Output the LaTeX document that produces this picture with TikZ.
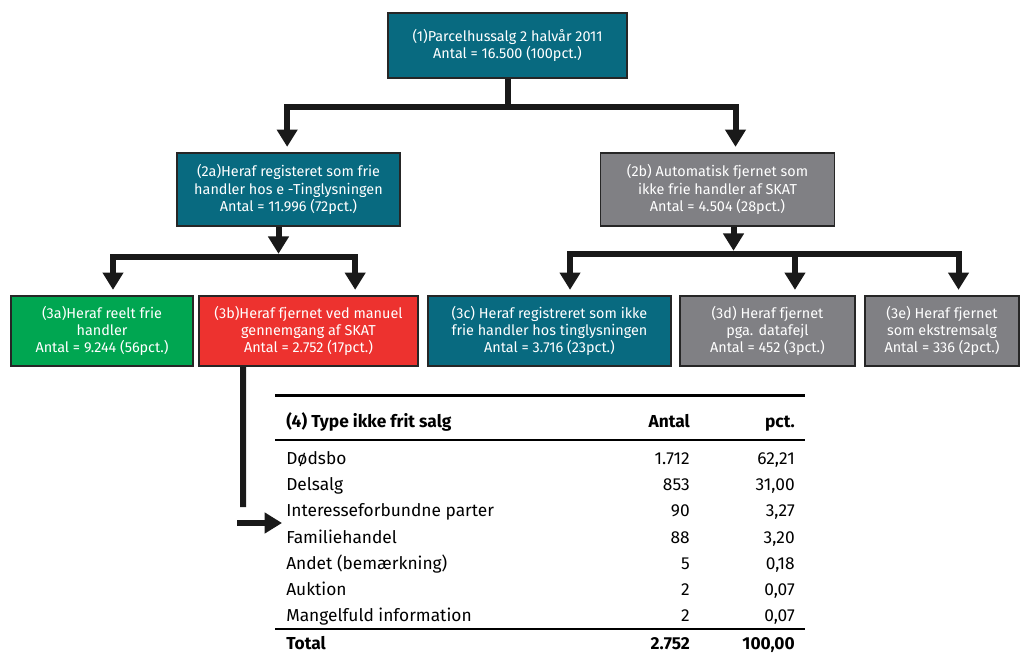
\documentclass[tikz,border=0pt]{standalone}
\usepackage{fontspec}
\setmainfont{Fira Sans}
\usetikzlibrary{arrows.meta,positioning}

\definecolor{petrol}{RGB}{8,106,128}
\definecolor{graa}{RGB}{128,128,132}
\definecolor{groen}{RGB}{0,166,81}
\definecolor{roed}{RGB}{237,50,47}

\tikzset{
  boks/.style={draw=black!85, line width=1.2pt, text=white, align=center,
    inner sep=0pt, font=\fontsize{10.8}{13}\selectfont},
  streg/.style={line width=4.5pt, draw=black!90},
  pil/.style={streg, -{Triangle[width=15pt,length=13pt]}, shorten >=4pt},
  tekst/.style={font=\fontsize{13}{15}\selectfont, inner sep=0pt},
}

\begin{document}
\begin{tikzpicture}[x=0.75pt,y=-0.75pt]
\useasboundingbox (0,0) rectangle (1020,655);

% boxes
\node[boks, fill=petrol, minimum width=179.25pt, minimum height=48.75pt] (b1) at (507.5,45.5)
  {(1)Parcelhussalg 2 halvår 2011\\Antal = 16.500 (100pct.)};

\node[boks, fill=petrol, minimum width=167.25pt, minimum height=54.75pt] (b2a) at (288.5,189.5)
  {(2a)Heraf registeret som frie\\handler hos e -Tinglysningen\\Antal = 11.996 (72pct.)};
\node[boks, fill=graa, minimum width=175.5pt, minimum height=54.75pt] (b2b) at (717.5,189.5)
  {(2b) Automatisk fjernet som\\ikke frie handler af SKAT\\Antal = 4.504 (28pct.)};

\node[boks, fill=groen, minimum width=136.5pt, minimum height=52.5pt] (b3a) at (102,331)
  {(3a)Heraf reelt frie\\handler\\Antal = 9.244 (56pct.)};
\node[boks, fill=roed, minimum width=164.25pt, minimum height=52.5pt] (b3b) at (308.5,331)
  {(3b)Heraf fjernet ved manuel\\gennemgang af SKAT\\Antal = 2.752 (17pct.)};
\node[boks, fill=petrol, minimum width=182.25pt, minimum height=52.5pt] (b3c) at (549.5,331)
  {(3c) Heraf registreret som ikke\\frie handler hos tinglysningen\\Antal = 3.716 (23pct.)};
\node[boks, fill=graa, minimum width=131.25pt, minimum height=52.5pt] (b3d) at (767.5,331)
  {(3d) Heraf fjernet\\pga. datafejl\\Antal = 452 (3pct.)};
\node[boks, fill=graa, minimum width=115.5pt, minimum height=52.5pt] (b3e) at (942,331)
  {(3e) Heraf fjernet\\som ekstremsalg\\Antal = 336 (2pct.)};

% connectors
\draw[pil] (b1.south) -- ++(0,28) -| ([xshift=-1pt]b2a.north);
\draw[pil] (b1.south) -- ++(0,28) -| ([xshift=13.5pt]b2b.north);

\path ([xshift=-7.5pt]b2a.south) ++(0,30) coordinate (k2a);
\draw[pil, shorten >=2.25pt] ([xshift=-7.5pt]b2a.south) -- (k2a);
\draw[pil] (k2a) -| ([xshift=8.25pt]b3a.north);
\draw[pil] (k2a) -| ([xshift=35pt]b3b.north);

\path ([xshift=12pt]b2b.south) ++(0,27) coordinate (k2b);
\draw[pil, shorten >=2.25pt] ([xshift=12pt]b2b.south) -- (k2b);
\draw[pil] (k2b) -| ([xshift=15.4pt]b3c.north);
\draw[pil] (k2b) -| ([xshift=20.6pt]b3d.north);
\draw[pil] (k2b) -| ([xshift=12.4pt]b3e.north);

\coordinate (v3) at (243,507);
\coordinate (a0) at (237,523);
\coordinate (a1) at (282,523);
\draw[streg] ([xshift=-49.1pt]b3b.south) -- (v3);
\draw[pil, shorten >=0pt] (a0) -- (a1);

% table
\draw[line width=2.25pt] (275,396) -- (805,396);
\draw[line width=1.1pt] (275,440) -- (805,440);
\draw[line width=1.5pt] (275,629) -- (805,629);

\node[tekst, anchor=base west] (hoved) at (286,427) {\bfseries (4) Type ikke frit salg};
\node[tekst, anchor=base east] (hantal) at (690,427) {\bfseries Antal};
\node[tekst, anchor=base east] (hpct) at (795,427) {\bfseries pct.};

\node[tekst, anchor=base west] (r1) at (286,464) {Dødsbo};
\node[tekst, anchor=base west] (r2) at (286,490) {Delsalg};
\node[tekst, anchor=base west] (r3) at (286,516) {Interesseforbundne parter};
\node[tekst, anchor=base west] (r4) at (286,543) {Familiehandel};
\node[tekst, anchor=base west] (r5) at (286,569) {Andet (bemærkning)};
\node[tekst, anchor=base west] (r6) at (286,595) {Auktion};
\node[tekst, anchor=base west] (r7) at (286,621) {Mangelfuld information};

\node[tekst, anchor=base east] (a1n) at (690,464) {1.712};
\node[tekst, anchor=base east] (a2n) at (690,490) {853};
\node[tekst, anchor=base east] (a3n) at (690,516) {90};
\node[tekst, anchor=base east] (a4n) at (690,543) {88};
\node[tekst, anchor=base east] (a5n) at (690,569) {5};
\node[tekst, anchor=base east] (a6n) at (690,595) {2};
\node[tekst, anchor=base east] (a7n) at (690,621) {2};

\node[tekst, anchor=base east] (p1) at (795,464) {62,21};
\node[tekst, anchor=base east] (p2) at (795,490) {31,00};
\node[tekst, anchor=base east] (p3) at (795,516) {3,27};
\node[tekst, anchor=base east] (p4) at (795,543) {3,20};
\node[tekst, anchor=base east] (p5) at (795,569) {0,18};
\node[tekst, anchor=base east] (p6) at (795,595) {0,07};
\node[tekst, anchor=base east] (p7) at (795,621) {0,07};

\node[tekst, anchor=base west] (tot) at (286,649) {\bfseries Total};
\node[tekst, anchor=base east] (tota) at (690,649) {\bfseries 2.752};
\node[tekst, anchor=base east] (totp) at (795,649) {\bfseries 100,00};
\end{tikzpicture}
\end{document}
